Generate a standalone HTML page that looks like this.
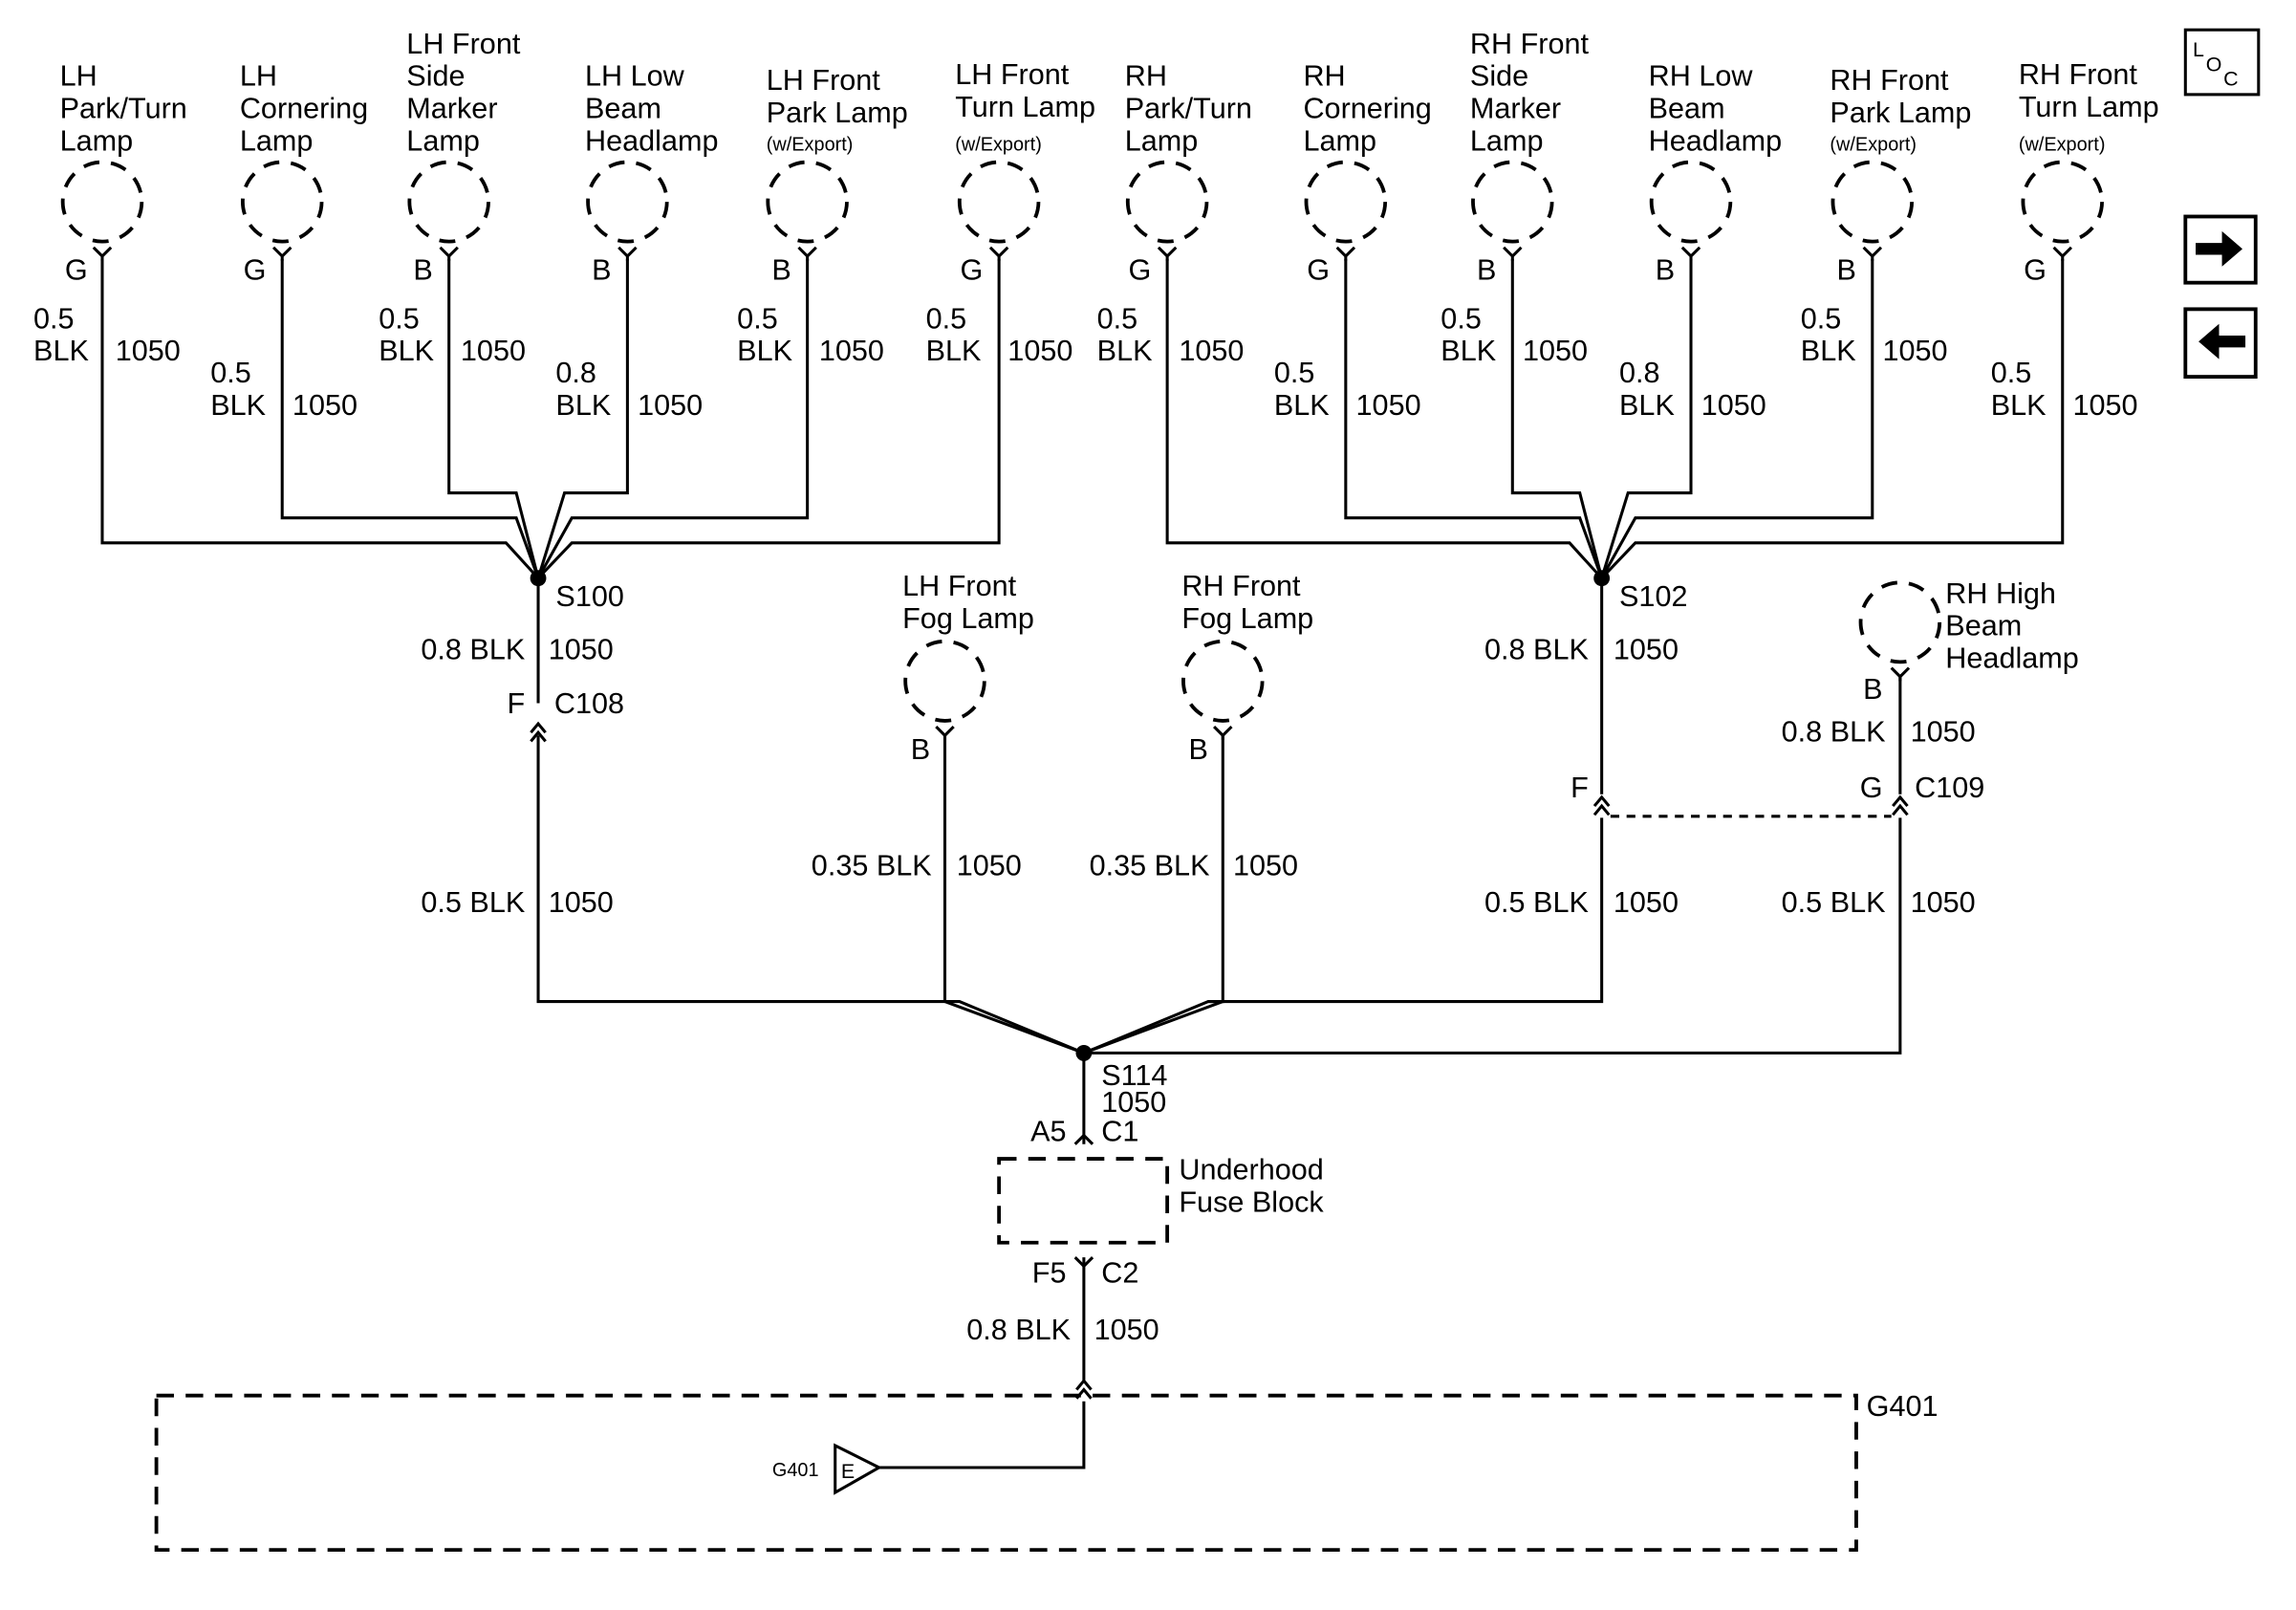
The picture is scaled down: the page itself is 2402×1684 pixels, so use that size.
<!DOCTYPE html>
<html><head><meta charset="utf-8"><style>
html,body{margin:0;padding:0;background:#fff}
svg{display:block}
text{font-family:"Liberation Sans",sans-serif;font-size:20px;fill:#000}
.s{font-size:13px}
</style></head><body>
<svg width="2402" height="1684" viewBox="-0.9 -0.3 1569.5 1095.2" preserveAspectRatio="none" xmlns="http://www.w3.org/2000/svg">
<defs>
<g id="lamp"><circle cx="0" cy="0" r="27" fill="none" stroke="#000" stroke-width="2.5" stroke-dasharray="11,8"/><path d="M-6,31 L0,37 L6,31 M0,37 V40" fill="none" stroke="#000" stroke-width="2"/></g>
<g id="cf"><path d="M-5,8 L0,2 L5,8 M-5,14 L0,8 L5,14" fill="none" stroke="#000" stroke-width="2"/></g>
</defs>
<g fill="none" stroke="#000" stroke-width="2">
<path d="M69,176 V369 H345 L367,393"/>
<path d="M192,176 V352 H352 L367,393"/>
<path d="M306,176 V335 H352 L367,393"/>
<path d="M428,176 V335 H385 L367,393"/>
<path d="M551,176 V352 H390 L367,393"/>
<path d="M682,176 V369 H390 L367,393"/>
<path d="M797,176 V369 H1072 L1094,393"/>
<path d="M919,176 V352 H1079 L1094,393"/>
<path d="M1033,176 V335 H1079 L1094,393"/>
<path d="M1155,176 V335 H1112 L1094,393"/>
<path d="M1279,176 V352 H1117 L1094,393"/>
<path d="M1409,176 V369 H1117 L1094,393"/>
<path d="M367,393 V478"/>
<path d="M367,500 V681 H655 L740,716"/>
<path d="M645,500 V681"/>
<path d="M835,500 V681 H825"/>
<path d="M1094,393 V540"/>
<path d="M1094,556 V681 H825 L740,716"/>
<path d="M1298,460 V540"/>
<path d="M1298,556 V716 H740"/>
<path d="M740,716 V778"/>
<path d="M740,855 V940"/>
<path d="M740,953 V998 H600"/>
<path d="M1100,555 H1292" stroke-dasharray="6,5"/>
<rect x="682" y="788" width="115" height="57" stroke-dasharray="12,8" stroke-width="2.5"/>
<rect x="106" y="949" width="1162" height="105" stroke-dasharray="12,8" stroke-width="2.5"/>
<path d="M570,983 L600,998 L570,1015 Z"/>
<path d="M734,778 L740,772 L746,778"/>
<path d="M734,855 L740,861 L746,855"/>
<rect x="1493" y="20" width="50" height="44"/>
<rect x="1493" y="147" width="48" height="45" stroke-width="2.5"/>
<rect x="1493" y="210" width="48" height="46" stroke-width="2.5"/>
</g>
<circle cx="367" cy="393" r="5.5"/><circle cx="1094" cy="393" r="5.5"/><circle cx="740" cy="716" r="5.5"/>
<use href="#cf" x="367" y="490"/><use href="#cf" x="1094" y="540"/><use href="#cf" x="1298" y="540"/><use href="#cf" x="740" y="937"/>
<path d="M1500,165 h18 v-8 l14,12 l-14,12 v-8 h-18 z"/>
<path d="M1534,228 h-18 v-8 l-14,12 l14,12 v-8 h18 z"/>
<text x="1498" y="38" style="font-size:14px">L</text><text x="1507" y="48" style="font-size:14px">O</text><text x="1519" y="58" style="font-size:14px">C</text>
<use href="#lamp" x="69" y="137"/><use href="#lamp" x="192" y="137"/><use href="#lamp" x="306" y="137"/><use href="#lamp" x="428" y="137"/><use href="#lamp" x="551" y="137"/><use href="#lamp" x="682" y="137"/>
<use href="#lamp" x="797" y="137"/><use href="#lamp" x="919" y="137"/><use href="#lamp" x="1033" y="137"/><use href="#lamp" x="1155" y="137"/><use href="#lamp" x="1279" y="137"/><use href="#lamp" x="1409" y="137"/>
<use href="#lamp" x="645" y="463"/><use href="#lamp" x="835" y="463"/><use href="#lamp" x="1298" y="423"/>
<text x="40" y="58">LH</text><text x="40" y="80">Park/Turn</text><text x="40" y="102">Lamp</text>
<text x="163" y="58">LH</text><text x="163" y="80">Cornering</text><text x="163" y="102">Lamp</text>
<text x="277" y="36">LH Front</text><text x="277" y="58">Side</text><text x="277" y="80">Marker</text><text x="277" y="102">Lamp</text>
<text x="399" y="58">LH Low</text><text x="399" y="80">Beam</text><text x="399" y="102">Headlamp</text>
<text x="523" y="61">LH Front</text><text x="523" y="83">Park Lamp</text><text x="523" y="102" class="s">(w/Export)</text>
<text x="652" y="57">LH Front</text><text x="652" y="79">Turn Lamp</text><text x="652" y="102" class="s">(w/Export)</text>
<text x="768" y="58">RH</text><text x="768" y="80">Park/Turn</text><text x="768" y="102">Lamp</text>
<text x="890" y="58">RH</text><text x="890" y="80">Cornering</text><text x="890" y="102">Lamp</text>
<text x="1004" y="36">RH Front</text><text x="1004" y="58">Side</text><text x="1004" y="80">Marker</text><text x="1004" y="102">Lamp</text>
<text x="1126" y="58">RH Low</text><text x="1126" y="80">Beam</text><text x="1126" y="102">Headlamp</text>
<text x="1250" y="61">RH Front</text><text x="1250" y="83">Park Lamp</text><text x="1250" y="102" class="s">(w/Export)</text>
<text x="1379" y="57">RH Front</text><text x="1379" y="79">Turn Lamp</text><text x="1379" y="102" class="s">(w/Export)</text>
<g text-anchor="end">
<text x="59" y="190">G</text><text x="181" y="190">G</text><text x="295" y="190">B</text><text x="417" y="190">B</text><text x="540" y="190">B</text><text x="671" y="190">G</text>
<text x="786" y="190">G</text><text x="908" y="190">G</text><text x="1022" y="190">B</text><text x="1144" y="190">B</text><text x="1268" y="190">B</text><text x="1398" y="190">G</text>
<text x="635" y="516">B</text><text x="825" y="516">B</text><text x="1286" y="475">B</text>
<text x="358" y="448">0.8 BLK</text><text x="358" y="485">F</text><text x="358" y="620">0.5 BLK</text>
<text x="636" y="595">0.35 BLK</text><text x="826" y="595">0.35 BLK</text>
<text x="1085" y="448">0.8 BLK</text><text x="1085" y="542">F</text><text x="1085" y="620">0.5 BLK</text>
<text x="1288" y="504">0.8 BLK</text><text x="1286" y="542">G</text><text x="1288" y="620">0.5 BLK</text>
<text x="728" y="776">A5</text><text x="728" y="872">F5</text><text x="731" y="911">0.8 BLK</text>
</g>
<g>
<text x="22" y="223">0.5</text><text x="22" y="245">BLK</text><text x="78" y="245">1050</text>
<text x="143" y="260">0.5</text><text x="143" y="282">BLK</text><text x="199" y="282">1050</text>
<text x="258" y="223">0.5</text><text x="258" y="245">BLK</text><text x="314" y="245">1050</text>
<text x="379" y="260">0.8</text><text x="379" y="282">BLK</text><text x="435" y="282">1050</text>
<text x="503" y="223">0.5</text><text x="503" y="245">BLK</text><text x="559" y="245">1050</text>
<text x="632" y="223">0.5</text><text x="632" y="245">BLK</text><text x="688" y="245">1050</text>
<text x="749" y="223">0.5</text><text x="749" y="245">BLK</text><text x="805" y="245">1050</text>
<text x="870" y="260">0.5</text><text x="870" y="282">BLK</text><text x="926" y="282">1050</text>
<text x="984" y="223">0.5</text><text x="984" y="245">BLK</text><text x="1040" y="245">1050</text>
<text x="1106" y="260">0.8</text><text x="1106" y="282">BLK</text><text x="1162" y="282">1050</text>
<text x="1230" y="223">0.5</text><text x="1230" y="245">BLK</text><text x="1286" y="245">1050</text>
<text x="1360" y="260">0.5</text><text x="1360" y="282">BLK</text><text x="1416" y="282">1050</text>
<text x="379" y="412">S100</text><text x="374" y="448">1050</text><text x="378" y="485">C108</text><text x="374" y="620">1050</text>
<text x="1106" y="412">S102</text><text x="1102" y="448">1050</text><text x="1102" y="620">1050</text>
<text x="1305" y="504">1050</text><text x="1308" y="542">C109</text><text x="1305" y="620">1050</text>
<text x="653" y="595">1050</text><text x="842" y="595">1050</text>
<text x="616" y="405">LH Front</text><text x="616" y="427">Fog Lamp</text>
<text x="807" y="405">RH Front</text><text x="807" y="427">Fog Lamp</text>
<text x="1329" y="410">RH High</text><text x="1329" y="432">Beam</text><text x="1329" y="454">Headlamp</text>
<text x="752" y="738">S114</text><text x="752" y="756">1050</text><text x="752" y="776">C1</text>
<text x="805" y="802">Underhood</text><text x="805" y="824">Fuse Block</text>
<text x="752" y="872">C2</text><text x="747" y="911">1050</text>
<text x="1275" y="963">G401</text>
<text x="574" y="1005" style="font-size:14px">E</text>
<text x="527" y="1004" class="s">G401</text>
</g>
<path d="M645,681 L740,716 M835,681 L740,716" fill="none" stroke="#000" stroke-width="2"/>
</svg>
</body></html>
